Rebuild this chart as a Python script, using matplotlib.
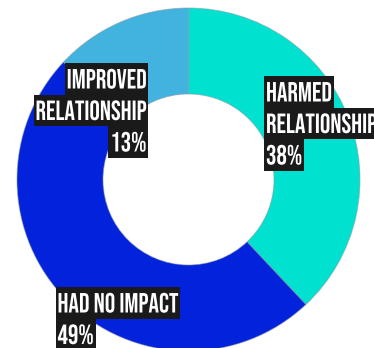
import matplotlib
matplotlib.use("Agg")
import matplotlib.pyplot as plt
import matplotlib.patheffects as pe
from matplotlib.patches import Rectangle
from matplotlib.transforms import Affine2D
from matplotlib import font_manager

# Survey results
categories = ["HARMED\nRELATIONSHIP", "HAD NO IMPACT", "IMPROVED\nRELATIONSHIP"]
values = [38, 49, 13]
colors = ["#00E1D0", "#0222DC", "#42B3DE"]

W, H = 374, 348
fig = plt.figure(figsize=(W / 100, H / 100), dpi=100)
ax = fig.add_axes([0, 0, 1, 1])

cx, cy = 188.5, H - 179.5
R_OUT, RING = 171.5, 86

ax.pie(values, colors=colors, startangle=90, counterclock=False,
       center=(cx, cy), radius=R_OUT,
       wedgeprops=dict(width=RING, edgecolor=(0.55, 0.6, 0.65, 0.55), linewidth=0.7))
ax.set_xlim(0, W)
ax.set_ylim(0, H)
ax.set_aspect("equal")
ax.axis("off")

# pick a narrow display face
family = "DejaVu Sans"
for cand in ["Bebas Neue", "Oswald", "Roboto Condensed", "Liberation Sans Narrow"]:
    try:
        font_manager.findfont(font_manager.FontProperties(family=cand),
                              fallback_to_default=False)
        family = cand
        break
    except Exception:
        pass


class Condense(pe.AbstractPathEffect):
    """Squeeze glyphs horizontally about a fixed x anchor."""

    def __init__(self, sx, x0):
        super().__init__()
        self.sx, self.x0 = sx, x0

    def draw_path(self, renderer, gc, tpath, affine, rgbFace=None):
        k = fig.dpi / 100
        x0 = self.x0 * k
        aff = affine + Affine2D().translate(-x0, 0).scale(self.sx, 1).translate(x0, 0)
        renderer.draw_path(gc, tpath, aff, rgbFace)


FS = 20
renderer = fig.canvas.get_renderer()
probe = ax.text(0, 0, "RELATIONSHIP", fontsize=FS, family=family, fontweight="bold")
natural = probe.get_window_extent(renderer).width
probe.remove()
SX = 111.0 / natural

LINE_H = 31.5
# label anchor (x, top of first line, alignment), one per category
label_pos = [(266, 76, "left"), (57.5, 287, "left"), (146.5, 63, "right")]


def boxed_label(text, x, top, ha):
    for i, line in enumerate(text.split("\n")):
        ytop = top + i * LINE_H
        t = ax.text(x, H - (ytop + 25.5), line, fontsize=FS, family=family,
                    fontweight="bold", color="white", ha=ha, va="baseline",
                    zorder=5)
        t.set_path_effects([Condense(SX, x)])
        w = t.get_window_extent(renderer).width * SX
        x0 = x - 1.8 if ha == "left" else x - w - 1.8
        ax.add_patch(Rectangle((x0, H - ytop - LINE_H), w + 3.6, LINE_H,
                               facecolor="#1a1a1a", edgecolor="none", zorder=4))


for cat, v, (x, top, ha) in zip(categories, values, label_pos):
    boxed_label(f"{cat}\n{v}%", x, top, ha)

fig.savefig("out.png", dpi=100)
